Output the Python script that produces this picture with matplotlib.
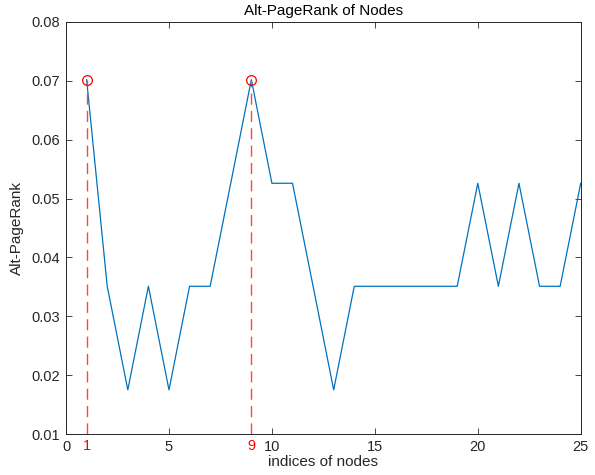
import matplotlib
matplotlib.use("Agg")
import matplotlib.pyplot as plt

plt.rcParams["font.family"] = ["Liberation Sans", "DejaVu Sans"]

# node indices and their Alt-PageRank values
nodes = list(range(1, 26))
rank = [
    0.0702, 0.0351, 0.0175, 0.0351, 0.0175,
    0.0351, 0.0351, 0.0526, 0.0702, 0.0526,
    0.0526, 0.0351, 0.0175, 0.0351, 0.0351,
    0.0351, 0.0351, 0.0351, 0.0351, 0.0526,
    0.0351, 0.0526, 0.0351, 0.0351, 0.0526,
]

# highlighted top nodes
top_nodes = [1, 9]
top_rank = [0.0702, 0.0702]

fig = plt.figure(figsize=(5.95, 4.75), dpi=100)
ax = fig.add_axes([0.111, 0.0863, 0.865, 0.8674])

ax.plot(nodes, rank, color="#0072BD", linewidth=0.9)

for n, r in zip(top_nodes, top_rank):
    ax.plot([n, n], [0.01, r], color="#FF4444", linestyle=(0, (8, 4.5)), linewidth=1.0)
    ax.text(n, -0.012, str(n), color="red", fontsize=10.5, ha="center", va="top",
            transform=ax.get_xaxis_transform())
ax.plot(top_nodes, top_rank, "o", markerfacecolor="none", markeredgecolor="red",
        markersize=7, markeredgewidth=0.9)

ax.set_xlim(0, 25)
ax.set_ylim(0.01, 0.08)
ax.set_xticks([0, 5, 10, 15, 20, 25])
ax.set_yticks([0.01, 0.02, 0.03, 0.04, 0.05, 0.06, 0.07, 0.08])
ax.set_yticklabels(["0.01", "0.02", "0.03", "0.04", "0.05", "0.06", "0.07", "0.08"])
ax.tick_params(direction="in", top=True, right=True, labelsize=10.5, length=4,
               width=0.6, colors="#262626", pad=4)
for s in ax.spines.values():
    s.set_linewidth(0.7)
    s.set_color("#262626")

ax.set_xlabel("indices of nodes", fontsize=11, color="#262626", labelpad=1)
ax.set_ylabel("Alt-PageRank", fontsize=11, color="#262626", labelpad=6)
ax.set_title("Alt-PageRank of Nodes", fontsize=11, color="black", pad=5)

fig.savefig("out.png", dpi=100)
